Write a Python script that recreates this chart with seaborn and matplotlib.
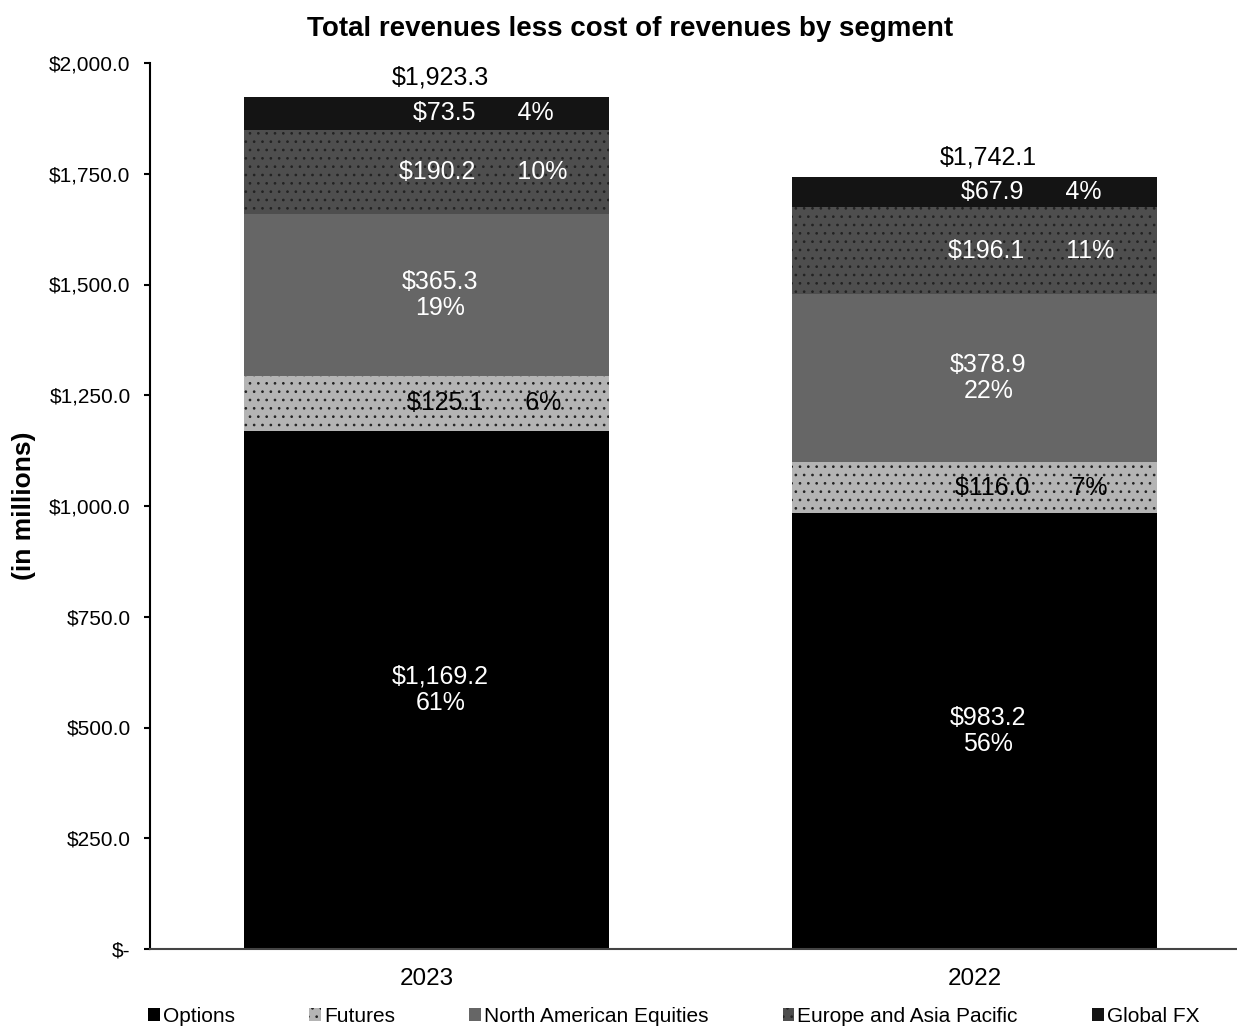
import matplotlib
matplotlib.use("Agg")
import matplotlib.pyplot as plt
from matplotlib.patches import Patch
import seaborn as sns
import pandas as pd

# data ($ millions)
years = ["2023", "2022"]
segments = ["Options", "Futures", "North American Equities", "Europe and Asia Pacific", "Global FX"]
options = [1169.2, 983.2]
futures = [125.1, 116.0]
na_equities = [365.3, 378.9]
europe_apac = [190.2, 196.1]
global_fx = [73.5, 67.9]
totals = [1923.3, 1742.1]
pct_options = ["61%", "56%"]
pct_futures = ["6%", "7%"]
pct_na_equities = ["19%", "22%"]
pct_europe_apac = ["10%", "11%"]
pct_global_fx = ["4%", "4%"]

colors = ["#000000", "#b4b4b4", "#666666", "#4e4e4e", "#141414"]
hatches = [None, "..", None, "..", None]
text_colors = ["white", "black", "white", "white", "white"]
two_line = [True, False, True, False, False]

sns.set_theme(style="white")
plt.rcParams["font.family"] = ["Liberation Sans", "DejaVu Sans"]
plt.rcParams["hatch.linewidth"] = 0.7
for key in ["text.color", "axes.labelcolor", "xtick.color", "ytick.color"]:
    plt.rcParams[key] = "black"

fig = plt.figure(figsize=(12.37, 10.26), dpi=100)
ax = fig.add_axes([150 / 1237, 77 / 1026, 1087 / 1237, 886 / 1026])

values = [options, futures, na_equities, europe_apac, global_fx]
pcts = [pct_options, pct_futures, pct_na_equities, pct_europe_apac, pct_global_fx]

bottom = [0.0, 0.0]
for i, seg in enumerate(segments):
    df = pd.DataFrame({"year": years, "value": values[i]})
    sns.barplot(data=df, x="year", y="value", bottom=bottom, color=colors[i],
                width=0.666, hatch=hatches[i], edgecolor="#222222", linewidth=0,
                saturation=1, ax=ax)
    for j in range(len(years)):
        mid = bottom[j] + values[i][j] / 2
        if two_line[i]:
            label = f"${values[i][j]:,.1f}\n{pcts[i][j]}"
            dx = 0.025
        else:
            label = f"${values[i][j]:,.1f}      {pcts[i][j]}"
            dx = 0.104
        ax.text(j + dx, mid, label, ha="center", va="center", color=text_colors[i],
                fontsize=18, linespacing=1.12)
    bottom = [b + v for b, v in zip(bottom, values[i])]

for j, t in enumerate(totals):
    ax.text(j + 0.025, t + 45, f"${t:,.1f}", ha="center", va="center",
            color="black", fontsize=18)

ax.set_xlim(-0.505, 1.479)
ax.set_ylim(0, 2000)
ax.set_yticks([0, 250, 500, 750, 1000, 1250, 1500, 1750, 2000])
ax.set_yticklabels(["$-"] + [f"${v:,.1f}" for v in [250, 500, 750, 1000, 1250, 1500, 1750, 2000]],
                   fontsize=15)
ax.tick_params(axis="x", labelsize=17.5, length=0, pad=14)
ax.tick_params(axis="y", left=True, length=4, width=1.5, direction="out", pad=10)
ax.set_xlabel("")
ax.set_ylabel("(in millions)", fontsize=19, fontweight="bold", labelpad=9)
for s in ["top", "right"]:
    ax.spines[s].set_visible(False)
ax.spines["left"].set_color("black")
ax.spines["left"].set_linewidth(1.5)
ax.spines["bottom"].set_color("#444444")
ax.spines["bottom"].set_linewidth(1.5)

fig.suptitle("Total revenues less cost of revenues by segment", x=0.509, y=0.984,
             fontsize=20, fontweight="bold")

handles = [Patch(facecolor=colors[i], hatch=hatches[i], edgecolor="#222222", linewidth=0)
           for i in range(len(segments))]
fig.legend(handles, segments, loc="center left", bbox_to_anchor=(0.1115, 0.0095), ncol=5,
           frameon=False, fontsize=15, handlelength=0.55, handleheight=0.55,
           handletextpad=0.15, columnspacing=3.57, borderpad=0)

fig.savefig("out.png", dpi=100)
